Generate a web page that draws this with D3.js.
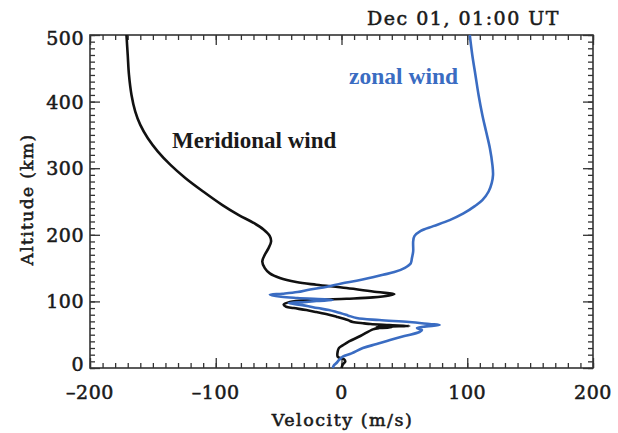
<!DOCTYPE html>
<html><head><meta charset="utf-8">
<script src="https://cdn.jsdelivr.net/npm/d3@7"></script>
<style>
html,body{margin:0;padding:0;background:#fff;}
svg{display:block;}
</style></head>
<body>
<script>
// ---- data ----
const title = "Dec 01, 01:00 UT";
const xLabel = "Velocity (m/s)";
const yLabel = "Altitude (km)";
const xTicks = [-200, -100, 0, 100, 200];
const yTicks = [0, 100, 200, 300, 400, 500];
const seriesNames = ["Meridional wind", "zonal wind"];

const meridionalVel = [-171,-170,-169,-167,-164,-160,-154,-146,-136,-124,-110,-95,-82,-70,-62,-57,-56,-58,-61,-63,-61,-57,-49,-36,-20,4,28,42,38,25,4,-23,-41,-46,-44,-38,-28,-20,-10,-4,5,9,18,23,38,54,40,28,40,30,25,15,6,1,-2,-3,-3,2,3,1,0];
const meridionalAlt = [500,470,440,410,385,365,345,325,305,285,265,245,230,218,208,198,190,180,170,160,150,142,135,129,125,120,114,111,109,106,104,102,99,95,92,90,87,84,80,77,72,69,67,66,64.5,63,62.5,62,61,60,58,48,40,34,30,25,17,13,10,5,0];

const zonalVel = [102,104,106.5,109,112,115,118,120,120.5,119.5,117,112,106,97,86,73,63,58,57,57,56,55,50,42,33,22,12,0,-11.5,-25,-35,-47,-57,-48,-35,-7,-20,-28,-42,-30,-19,-10,-4,5,12,30,54,70,78,65,60,64,62,50,38.6,28,17,8,1,-2,-4,-6,-7];
const zonalAlt = [500,470,440,410,380,355,330,305,290,278,265,252,243,232,222,213,206,198,190,175,165,157,150,144,140,135,131,127,122,118,114,111.5,110,107,105,102,100.5,99,97.5,94,90,87,84,79,75,72,69,66,64.5,62,60,57,54,48,42,36,30,22,17,12,7.5,4,0];

// ---- chart ----
const W = 618, H = 433;
const svg = d3.select("body").append("svg").attr("width", W).attr("height", H);

const x = d3.scaleLinear().domain([-200, 200]).range([90, 593]);
const y = d3.scaleLinear().domain([0, 500]).range([368, 35]);

const frameColor = "#333";
const textColor = "#1a1a1a";
const axFont = "'DejaVu Serif', serif";

const xMinor = d3.range(-200, 201, 10);
const yMinor = d3.range(0, 501, 10);

function styleAxis(g){
  g.select(".domain").remove();
  g.selectAll("line").attr("stroke", frameColor).attr("stroke-width", 1.3);
}
function heavy(sel){
  sel.attr("stroke", textColor).attr("stroke-width", 0.55).attr("paint-order", "stroke");
}

svg.append("g").attr("transform", `translate(0,${y(0)})`)
  .call(d3.axisBottom(x).tickValues(xMinor).tickSize(-5).tickFormat("")).call(styleAxis);
svg.append("g").attr("transform", `translate(0,${y(0)})`)
  .call(d3.axisBottom(x).tickValues(xTicks).tickSize(-10).tickFormat("")).call(styleAxis);
svg.append("g").attr("transform", `translate(0,${y(500)})`)
  .call(d3.axisTop(x).tickValues(xMinor).tickSize(-5).tickFormat("")).call(styleAxis);
svg.append("g").attr("transform", `translate(0,${y(500)})`)
  .call(d3.axisTop(x).tickValues(xTicks).tickSize(-10).tickFormat("")).call(styleAxis);
svg.append("g").attr("transform", `translate(${x(-200)},0)`)
  .call(d3.axisLeft(y).tickValues(yMinor).tickSize(-5).tickFormat("")).call(styleAxis);
svg.append("g").attr("transform", `translate(${x(-200)},0)`)
  .call(d3.axisLeft(y).tickValues(yTicks).tickSize(-10).tickFormat("")).call(styleAxis);
svg.append("g").attr("transform", `translate(${x(200)},0)`)
  .call(d3.axisRight(y).tickValues(yMinor).tickSize(-5).tickFormat("")).call(styleAxis);
svg.append("g").attr("transform", `translate(${x(200)},0)`)
  .call(d3.axisRight(y).tickValues(yTicks).tickSize(-10).tickFormat("")).call(styleAxis);

// frame
svg.append("rect")
  .attr("x", x(-200)).attr("y", y(500))
  .attr("width", x(200) - x(-200)).attr("height", y(0) - y(500))
  .attr("fill", "none").attr("stroke", frameColor).attr("stroke-width", 1.6);

// tick labels
svg.append("g").selectAll("text").data(xTicks).join("text")
  .attr("x", d => x(d)).attr("y", y(0) + 31)
  .attr("text-anchor", "middle")
  .attr("font-family", axFont).attr("font-size", 19).attr("letter-spacing", 0.5)
  .attr("fill", textColor).call(heavy)
  .text(d => d < 0 ? "\u2013" + Math.abs(d) : d);

svg.append("g").selectAll("text").data(yTicks).join("text")
  .attr("x", x(-200) - 6).attr("y", d => y(d) + 7 + (d === 500 ? 3 : 0) - (d === 0 ? 4 : 0))
  .attr("text-anchor", "end")
  .attr("font-family", axFont).attr("font-size", 19).attr("letter-spacing", 0.5)
  .attr("fill", textColor).call(heavy)
  .text(d => d);

// axis titles
svg.append("text")
  .attr("x", (x(-200) + x(200)) / 2 + 1).attr("y", 426)
  .attr("text-anchor", "middle")
  .attr("font-family", axFont).attr("font-size", 17.5).attr("letter-spacing", 1.5)
  .attr("fill", textColor).call(heavy).text(xLabel);

svg.append("text")
  .attr("transform", `translate(33,${(y(0) + y(500)) / 2 - 2}) rotate(-90)`)
  .attr("text-anchor", "middle")
  .attr("font-family", axFont).attr("font-size", 17).attr("letter-spacing", 1.4)
  .attr("fill", textColor).call(heavy).text(yLabel);

// title
svg.append("text")
  .attr("x", 560).attr("y", 25)
  .attr("text-anchor", "end")
  .attr("font-family", axFont).attr("font-size", 19).attr("letter-spacing", 1.5)
  .attr("fill", textColor).call(heavy).text(title);

// lines
const meridional = meridionalVel.map((v, i) => ({v, a: meridionalAlt[i]}));
const zonal = zonalVel.map((v, i) => ({v, a: zonalAlt[i]}));
const line = d3.line().x(d => x(d.v)).y(d => y(d.a)).curve(d3.curveCatmullRom.alpha(0.5));

svg.append("path").datum(meridional)
  .attr("d", line).attr("fill", "none").attr("stroke", "#111").attr("stroke-width", 2.6)
  .attr("stroke-linejoin", "round");
svg.append("path").datum(zonal)
  .attr("d", line).attr("fill", "none").attr("stroke", "#3a6cc2").attr("stroke-width", 2.6)
  .attr("stroke-linejoin", "round");

// series labels
svg.append("text")
  .attr("x", 172).attr("y", 148)
  .attr("font-family", "'Liberation Serif', 'Times New Roman', serif")
  .attr("font-size", 23).attr("font-weight", "bold")
  .attr("fill", "#1a1a1a").text(seriesNames[0]);
svg.append("text")
  .attr("x", 349).attr("y", 84)
  .attr("font-family", "'Liberation Serif', 'Times New Roman', serif")
  .attr("font-size", 23.5).attr("font-weight", "bold")
  .attr("fill", "#3a6cc2").text(seriesNames[1]);
</script>
</body></html>
